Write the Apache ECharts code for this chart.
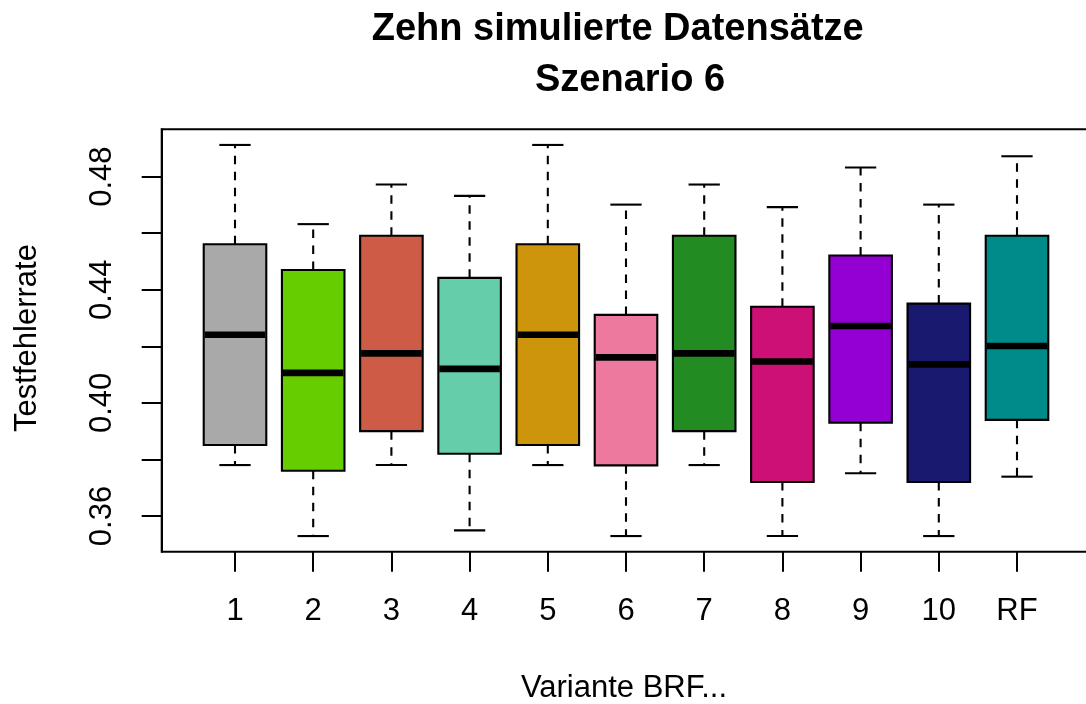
<!DOCTYPE html>
<html>
<head>
<meta charset="utf-8">
<script src="https://cdn.jsdelivr.net/npm/echarts@6/dist/echarts.min.js"></script>
<style>
  html, body { margin: 0; padding: 0; background: #fff; }
  #chart { width: 1086px; height: 704px; }
</style>
</head>
<body>
<div id="chart"></div>
<script>
// ---- data ----
const categories  = ['1', '2', '3', '4', '5', '6', '7', '8', '9', '10', 'RF'];
const lowWhisker  = [0.3780, 0.3529, 0.3780, 0.3549, 0.3780, 0.3529, 0.3780, 0.3529, 0.3751, 0.3529, 0.3739];
const lowerQuart  = [0.3851, 0.3760, 0.3900, 0.3820, 0.3851, 0.3779, 0.3900, 0.3720, 0.3930, 0.3720, 0.3940];
const medians     = [0.4241, 0.4106, 0.4175, 0.4120, 0.4241, 0.4161, 0.4175, 0.4146, 0.4272, 0.4136, 0.4201];
const upperQuart  = [0.4561, 0.4470, 0.4591, 0.4442, 0.4561, 0.4311, 0.4591, 0.4340, 0.4521, 0.4351, 0.4591];
const highWhisker = [0.4912, 0.4632, 0.4772, 0.4732, 0.4912, 0.4701, 0.4772, 0.4692, 0.4832, 0.4701, 0.4872];
const boxColors   = ['#A9A9A9', '#66CD00', '#CD5B45', '#66CDAA', '#CD950C', '#EE799F',
                     '#228B22', '#CD1076', '#9400D3', '#191970', '#008B8B'];
const yTickValues  = [0.36, 0.38, 0.40, 0.42, 0.44, 0.46, 0.48];
const yLabelValues = [0.36, 0.40, 0.44, 0.48];

// R-style axis range: data range extended by 4% each side
const dMin = Math.min(...lowWhisker), dMax = Math.max(...highWhisker);
const yMin = dMin - 0.04 * (dMax - dMin);
const yMax = dMax + 0.04 * (dMax - dMin);

const FONT = 'Liberation Sans, Arial, Helvetica, sans-serif';
const chart = echarts.init(document.getElementById('chart'), null, { renderer: 'canvas' });

const boxData = categories.map((c, i) =>
  [i, lowWhisker[i], lowerQuart[i], medians[i], upperQuart[i], highWhisker[i]]);

function renderBox(params, api) {
  const i = api.value(0);
  const pLo = api.coord([i, api.value(1)]);
  const pQ1 = api.coord([i, api.value(2)]);
  const pMed = api.coord([i, api.value(3)]);
  const pQ3 = api.coord([i, api.value(4)]);
  const pHi = api.coord([i, api.value(5)]);
  const bw = api.size([1, 0])[0] * 0.8;
  const cx = pMed[0];
  const lw = 2.1;
  return {
    type: 'group',
    children: [
      { type: 'line', shape: { x1: cx, y1: pQ3[1], x2: cx, y2: pHi[1] },
        style: { stroke: '#000', lineWidth: lw, lineDash: [8.5, 7.5] } },
      { type: 'line', shape: { x1: cx, y1: pQ1[1], x2: cx, y2: pLo[1] },
        style: { stroke: '#000', lineWidth: lw, lineDash: [8.5, 7.5] } },
      { type: 'line', shape: { x1: cx - bw / 4, y1: pHi[1], x2: cx + bw / 4, y2: pHi[1] },
        style: { stroke: '#000', lineWidth: lw } },
      { type: 'line', shape: { x1: cx - bw / 4, y1: pLo[1], x2: cx + bw / 4, y2: pLo[1] },
        style: { stroke: '#000', lineWidth: lw } },
      { type: 'rect', shape: { x: cx - bw / 2, y: pQ3[1], width: bw, height: pQ1[1] - pQ3[1] },
        style: { fill: boxColors[i], stroke: '#000', lineWidth: lw } },
      { type: 'line', shape: { x1: cx - bw / 2 + 1, y1: pMed[1], x2: cx + bw / 2 - 1, y2: pMed[1] },
        style: { stroke: '#000', lineWidth: 6.6 } }
    ]
  };
}

const option = {
  animation: false,
  backgroundColor: '#fff',
  grid: [
    { // plot frame (right edge lies outside the picture, as in the reference)
      left: 161.7, top: 129.3, width: 929, bottom: 152.3,
      outerBoundsMode: 'none', containLabel: false,
      show: true, borderColor: '#000', borderWidth: 2, backgroundColor: 'transparent'
    },
    { // box positions
      left: 195.9, top: 129.3, right: 29.9, bottom: 152.3,
      outerBoundsMode: 'none', containLabel: false
    }
  ],
  xAxis: [
    { gridIndex: 0, type: 'value', min: 0, max: 1, show: false },
    {
      gridIndex: 1, type: 'category', data: categories,
      axisLine: { show: false },
      axisTick: { show: true, alignWithLabel: true, length: 20, lineStyle: { color: '#000', width: 2 } },
      axisLabel: { color: '#000', fontSize: 31, fontFamily: FONT, margin: 44 },
      splitLine: { show: false }
    }
  ],
  yAxis: [
    {
      gridIndex: 0, type: 'value', min: yMin, max: yMax,
      axisLine: { show: true, lineStyle: { color: '#000', width: 2 } },
      axisTick: { show: true, length: 20, customValues: yTickValues, lineStyle: { color: '#000', width: 2 } },
      axisLabel: {
        color: '#000', fontSize: 31, fontFamily: FONT, rotate: 90, margin: 44,
        customValues: yLabelValues, formatter: v => v.toFixed(2)
      },
      splitLine: { show: false }
    },
    { gridIndex: 1, type: 'value', min: yMin, max: yMax, show: false, splitLine: { show: false } }
  ],
  series: [
    {
      type: 'custom', xAxisIndex: 1, yAxisIndex: 1,
      renderItem: renderBox,
      encode: { x: 0, y: [1, 2, 3, 4, 5] },
      data: boxData,
      clip: false
    }
  ],
  graphic: [
    { type: 'text', x: 617.7, y: 30,
      style: { text: 'Zehn simulierte Datensätze', font: 'bold 38px ' + FONT, fill: '#000',
               textAlign: 'center', textVerticalAlign: 'middle' } },
    { type: 'text', x: 630, y: 81,
      style: { text: 'Szenario 6', font: 'bold 38px ' + FONT, fill: '#000',
               textAlign: 'center', textVerticalAlign: 'middle' } },
    { type: 'text', x: 624, y: 688,
      style: { text: 'Variante BRF...', font: '31px ' + FONT, fill: '#000',
               textAlign: 'center', textVerticalAlign: 'middle' } },
    { type: 'text', x: 27, y: 338, rotation: Math.PI / 2,
      style: { text: 'Testfehlerrate', font: '31px ' + FONT, fill: '#000',
               textAlign: 'center', textVerticalAlign: 'middle' } }
  ]
};
chart.setOption(option);
</script>
</body>
</html>
